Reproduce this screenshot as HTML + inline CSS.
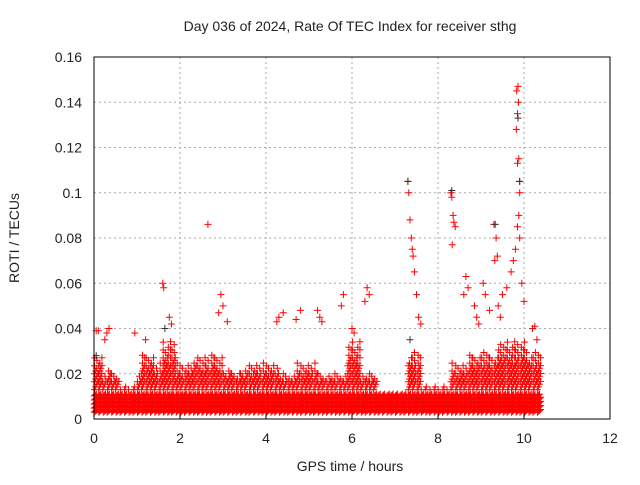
<!DOCTYPE html>
<html><head><meta charset="utf-8"><style>
body{margin:0;background:#fff}
svg text{font-family:"Liberation Sans",sans-serif;font-size:14px;fill:#222}
</style></head><body>
<svg width="640" height="480" xmlns="http://www.w3.org/2000/svg">
<g id="grid"></g>
<g id="marks"></g>
<g id="axes"></g>
<text x="350" y="31" text-anchor="middle">Day 036 of 2024, Rate Of TEC Index for receiver sthg</text>
<text x="350" y="471" text-anchor="middle">GPS time / hours</text>
<text x="19" y="238" text-anchor="middle" transform="rotate(-90 19 238)">ROTI / TECUs</text>
</svg>
<script>
const xTicks=[0,2,4,6,8,10,12];
const yTicks=[0,0.02,0.04,0.06,0.08,0.1,0.12,0.14,0.16];
const yTickLabels=["0","0.02","0.04","0.06","0.08","0.1","0.12","0.14","0.16"];
// upper envelope of moderately dense points per 0.1h bin, starting at t=0
const bandTop=[0.03,0.03,0.02,0.022,0.02,0.02,0.015,0.015,0.015,0.015,0.02,0.03,0.03,0.03,0.025,0.025,0.035,0.035,0.035,0.025,0.025,0.025,0.025,0.028,0.028,0.028,0.028,0.03,0.028,0.028,0.022,0.022,0.022,0.022,0.022,0.022,0.025,0.025,0.025,0.025,0.025,0.025,0.025,0.02,0.02,0.02,0.02,0.025,0.025,0.025,0.025,0.025,0.02,0.02,0.02,0.02,0.02,0.02,0.02,0.035,0.035,0.035,0.02,0.02,0.02,0.02,0.012,0.012,0.012,0.012,0.012,0.012,0.012,0.03,0.03,0.03,0.015,0.015,0.015,0.015,0.015,0.015,0.015,0.025,0.025,0.025,0.025,0.03,0.03,0.03,0.03,0.03,0.03,0.03,0.035,0.035,0.035,0.035,0.035,0.035,0.035,0.03,0.03,0.03];
const spikeT=[0.05,0.1,0.25,0.3,0.35,0.95,1.2,1.6,1.62,1.75,1.8,2.65,2.95,3.0,2.9,3.1,4.25,4.3,4.4,4.8,4.7,5.25,5.3,5.2,5.8,5.75,6.0,6.05,6.35,6.4,6.3,7.3,7.32,7.35,7.38,7.4,7.42,7.45,7.5,7.55,7.6,8.3,8.32,8.35,8.37,8.33,8.4,8.65,8.7,8.6,8.85,9.05,9.1,9.3,9.35,9.38,9.32,9.5,9.7,9.75,9.8,9.85,9.88,9.9,9.9,9.85,9.88,9.82,9.85,9.87,9.83,9.86,9.9,9.95,10.0,10.2,10.25,10.3,9.6,9.2,8.9,8.95,9.4,9.45];
const spikeV=[0.039,0.039,0.035,0.038,0.04,0.038,0.035,0.06,0.058,0.045,0.042,0.086,0.055,0.05,0.047,0.043,0.043,0.045,0.047,0.048,0.044,0.045,0.043,0.048,0.055,0.05,0.04,0.038,0.058,0.055,0.052,0.105,0.1,0.088,0.08,0.075,0.072,0.065,0.055,0.045,0.042,0.1,0.098,0.09,0.087,0.077,0.085,0.063,0.058,0.055,0.05,0.06,0.055,0.086,0.08,0.072,0.07,0.055,0.065,0.07,0.075,0.085,0.09,0.1,0.105,0.113,0.115,0.128,0.135,0.14,0.145,0.147,0.08,0.06,0.052,0.04,0.041,0.035,0.058,0.048,0.045,0.042,0.05,0.045];
const darkT=[7.3,8.32,9.33,9.86,1.65,0.05,9.9,7.35];
const darkV=[0.105,0.101,0.086,0.133,0.04,0.028,0.105,0.035];

const NS='http://www.w3.org/2000/svg';
const X0=94,X1=610,Y0=419,Y1=57;
const xs=t=>X0+(t/12)*(X1-X0);
const ys=v=>Y0-(v/0.16)*(Y0-Y1);
function mk(tag,a,p){const e=document.createElementNS(NS,tag);for(const k in a)e.setAttribute(k,a[k]);p.appendChild(e);return e;}
const grid=document.getElementById('grid'),axes=document.getElementById('axes'),marks=document.getElementById('marks');
xTicks.forEach((t,i)=>{
  if(i>0&&i<xTicks.length-1){const l=mk('line',{x1:xs(t),x2:xs(t),y1:Y0,y2:Y1,stroke:'#aaa','stroke-dasharray':'2,3'},grid);
  
  }
  const tk=mk('line',{x1:xs(t),x2:xs(t),y1:Y0,y2:Y0-6,stroke:'#000'},axes);
  
  
  const tx=mk('text',{x:xs(t),y:Y0+24,'text-anchor':'middle'},axes);tx.textContent=t;
  
  
});
yTicks.forEach((v,i)=>{
  if(i>0&&i<yTicks.length-1){const l=mk('line',{x1:X0,x2:X1,y1:ys(v),y2:ys(v),stroke:'#aaa','stroke-dasharray':'2,3'},grid);
  
  }
  const tx=mk('text',{x:X0-12,y:ys(v)+5,'text-anchor':'end'},axes);tx.textContent=yTickLabels[i];
  
  
});
const fr=mk('rect',{x:X0,y:Y1,width:X1-X0,height:Y0-Y1,fill:'none',stroke:'#000'},axes);


function plus(x,y){return `M${(x-3.5).toFixed(1)} ${y.toFixed(1)}h7M${x.toFixed(1)} ${(y-3.5).toFixed(1)}v7`;}
let d='';
const offs=[0.005,0.03,0.055,0.08];
const reach=[1,0.7,0.88,0.6];
bandTop.forEach((top,b)=>{
  const t=b*0.1;
  offs.forEach((o,k)=>{
    const jt=(b%3)*0.006;
    for(let v=0.003+k*0.0004;v<=0.011;v+=0.0018)d+=plus(xs(t+o+jt),ys(v));
    const lim=0.012+(top-0.012)*reach[(k+b)%4];
    for(let v=0.013+k*0.0012;v<=lim;v+=0.0035)d+=plus(xs(t+o+0.01-jt),ys(v));
  });
});
spikeT.forEach((t,i)=>{d+=plus(xs(t),ys(spikeV[i]));});
const p=mk('path',{d:d,stroke:'#ff0000','stroke-width':1,fill:'none'},marks);


let dd='';darkT.forEach((t,i)=>{dd+=plus(xs(t),ys(darkV[i]));});
const q=mk('path',{d:dd,stroke:'#333','stroke-width':1,fill:'none'},marks);


</script>
</body></html>
